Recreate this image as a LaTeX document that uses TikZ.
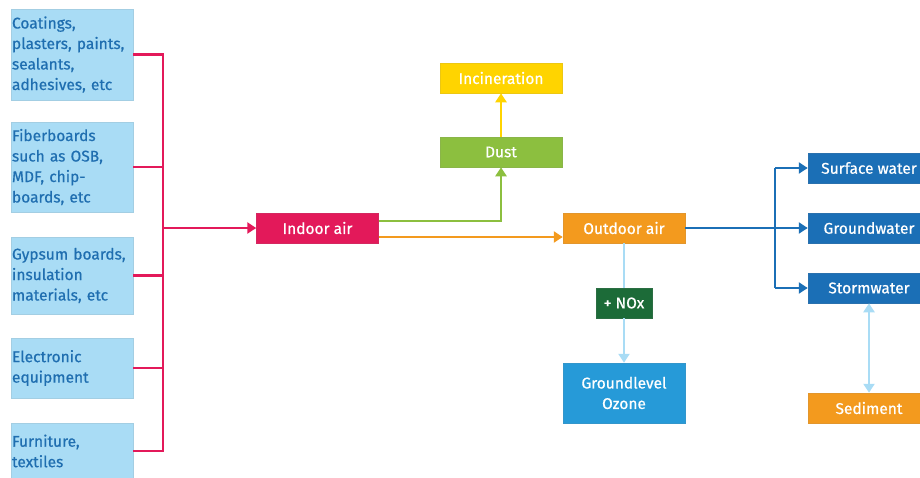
\documentclass[tikz,border=0pt]{standalone}
\usepackage{fontspec}
\setmainfont{Fira Sans}[FakeBold=0.6]
\usetikzlibrary{arrows.meta}
\definecolor{lbox}{HTML}{A9DCF5}
\definecolor{ltext}{HTML}{1F6EB0}
\definecolor{pinkc}{HTML}{E3195A}
\definecolor{greenc}{HTML}{8CBF3F}
\definecolor{yellowc}{HTML}{FFD400}
\definecolor{orangec}{HTML}{F39A1E}
\definecolor{dgreen}{HTML}{1C6B38}
\definecolor{ozonec}{HTML}{269AD8}
\definecolor{bluec}{HTML}{1B6FB6}
\definecolor{lline}{HTML}{A9DCF5}
\tikzset{
  src/.style={fill=lbox, draw=lbox!85!gray, line width=0.5pt, text=ltext, minimum width=122pt, text width=120pt, align=left, inner sep=1pt, font=\fontsize{15.5}{20.5}\selectfont},
  cbox/.style={draw=#1!85!gray, line width=0.5pt, fill=#1, text=white, minimum width=122pt, minimum height=30pt, inner sep=1pt, align=center, font=\fontsize{15.5}{20.5}\selectfont},
  conn/.style={line width=2.4pt, -{Triangle[length=9pt,width=11pt]}},
  plain/.style={line width=2.4pt}
}
\begin{document}
\begin{tikzpicture}[x=1pt,y=-1pt]
\useasboundingbox (0,0) rectangle (920,477);
% source boxes
\node[src, minimum height=91pt] (b1) at (72,54.5) {Coatings,\\plasters, paints,\\sealants,\\adhesives, etc};
\node[src, minimum height=90pt] (b2) at (72,167) {Fiberboards\\such as OSB,\\MDF, chip-\\boards, etc};
\node[src, minimum height=77pt] (b3) at (72,275.5) {Gypsum boards,\\insulation\\materials, etc};
\node[src, minimum height=60pt] (b4) at (72,368) {Electronic\\equipment};
\node[src, minimum height=56pt] (b5) at (72,451) {Furniture,\\textiles};
% main boxes
\node[cbox=pinkc] (indoor) at (317.5,228) {Indoor air};
\node[cbox=greenc] (dust) at (501,152) {Dust};
\node[cbox=yellowc] (incin) at (501,78) {Incineration};
\node[cbox=orangec] (outdoor) at (624,228) {Outdoor air};
\node[cbox=dgreen, minimum width=56pt] (nox) at (624,303) {+ NOx};
\node[cbox=ozonec, minimum height=60pt] (ozone) at (624,393) {Groundlevel\\Ozone};
\node[cbox=bluec] (surface) at (869,168) {Surface water};
\node[cbox=bluec] (ground) at (869,228) {Groundwater};
\node[cbox=bluec] (storm) at (869,288) {Stormwater};
\node[cbox=orangec] (sed) at (869,408) {Sediment};
% pink bus
\coordinate (bus) at (163,228);
\foreach \b in {b1,b2,b3,b4,b5} {\draw[plain, pinkc] (\b.east) -- (\b.east -| bus);}
\draw[plain, pinkc, line cap=rect] (b1.east -| bus) -- (b5.east -| bus);
\draw[conn, pinkc] (bus) -- (indoor.west);
% indoor outputs
\draw[conn, greenc] ([yshift=7pt]indoor.east) -| (dust.south);
\draw[conn, orangec] ([yshift=-9pt]indoor.east) -- ([yshift=-9pt]outdoor.west);
\draw[conn, yellowc] (dust.north) -- (incin.south);
% ozone
\draw[plain, lline] (outdoor.south) -- (nox.north);
\draw[conn, lline] (nox.south) -- (ozone.north);
% water bus
\coordinate (wbus) at (775,228);
\draw[plain, bluec] (outdoor.east) -- (wbus);
\draw[plain, bluec] (surface.west -| wbus) -- (storm.west -| wbus);
\draw[conn, bluec] (surface.west -| wbus) -- (surface.west);
\draw[conn, bluec] (wbus) -- (ground.west);
\draw[conn, bluec] (storm.west -| wbus) -- (storm.west);
\draw[line width=2.4pt, lline, {Triangle[length=9pt,width=11pt]}-{Triangle[length=9pt,width=11pt]}] (storm.south) -- (sed.north);
\end{tikzpicture}
\end{document}
